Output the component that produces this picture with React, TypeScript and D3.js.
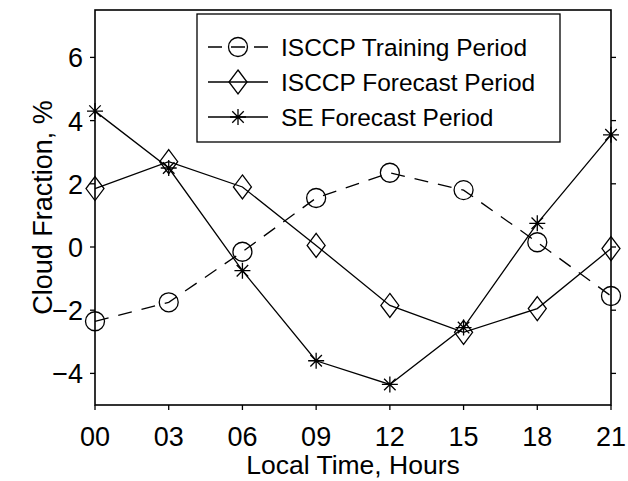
import React, { useEffect, useRef } from "react";
import * as d3 from "d3";

const hours = ["00", "03", "06", "09", "12", "15", "18", "21"];
const trainingISCCP = [-2.35, -1.75, -0.15, 1.55, 2.35, 1.8, 0.15, -1.55];
const forecastISCCP = [1.85, 2.7, 1.9, 0.05, -1.85, -2.7, -1.95, -0.05];
const forecastSE = [4.3, 2.5, -0.75, -3.6, -4.35, -2.55, 0.75, 3.55];
const yTicks = [-4, -2, 0, 2, 4, 6];

const W = 628;
const H = 481;
const M = { left: 95, right: 611, top: 10, bottom: 405 };
const FONT = "'Liberation Sans', Arial, Helvetica, sans-serif";

type Marker = "circle" | "diamond" | "star";

function drawMarker(g: d3.Selection<SVGGElement, unknown, null, undefined>, kind: Marker, x: number, y: number) {
  if (kind === "circle") {
    g.append("circle").attr("cx", x).attr("cy", y).attr("r", 9.5)
      .attr("fill", "none").attr("stroke", "#000").attr("stroke-width", 1.3);
  } else if (kind === "diamond") {
    const w = 9, h = 12;
    g.append("path")
      .attr("d", `M${x},${y - h}L${x + w},${y}L${x},${y + h}L${x - w},${y}Z`)
      .attr("fill", "none").attr("stroke", "#000").attr("stroke-width", 1.3);
  } else {
    const r = 8;
    const p: string[] = [];
    p.push(`M${x - r},${y}L${x + r},${y}`);
    p.push(`M${x},${y - r}L${x},${y + r}`);
    const d = r * 0.72;
    p.push(`M${x - d},${y - d}L${x + d},${y + d}`);
    p.push(`M${x - d},${y + d}L${x + d},${y - d}`);
    g.append("path").attr("d", p.join("")).attr("stroke", "#000").attr("stroke-width", 1.3).attr("fill", "none");
  }
}

export default function App() {
  const ref = useRef<SVGSVGElement>(null);

  useEffect(() => {
    const svg = d3.select(ref.current!);
    svg.selectAll("*").remove();

    const x = d3.scalePoint<string>().domain(hours).range([M.left, M.right]);
    const y = d3.scaleLinear().domain([-5, 7.5]).range([M.bottom, M.top]);

    const root = svg.append("g");

    const series: { name: string; values: number[]; marker: Marker; dash: string | null }[] = [
      { name: "ISCCP Training Period", values: trainingISCCP, marker: "circle", dash: "14,10" },
      { name: "ISCCP Forecast Period", values: forecastISCCP, marker: "diamond", dash: null },
      { name: "SE Forecast Period", values: forecastSE, marker: "star", dash: null },
    ];

    const line = d3.line<number>()
      .x((_, i) => x(hours[i])!)
      .y((v) => y(v));

    for (const s of series) {
      const g = root.append("g");
      const p = g.append("path").attr("d", line(s.values)!)
        .attr("fill", "none").attr("stroke", "#000").attr("stroke-width", 1.3);
      if (s.dash) p.attr("stroke-dasharray", s.dash);
      s.values.forEach((v, i) => drawMarker(g, s.marker, x(hours[i])!, y(v)));
    }

    // frame
    const axis = root.append("g");
    axis.append("rect")
      .attr("x", M.left).attr("y", M.top)
      .attr("width", M.right - M.left).attr("height", M.bottom - M.top)
      .attr("fill", "none").attr("stroke", "#000").attr("stroke-width", 1.6);

    // y ticks on both sides, pointing outward
    yTicks.forEach((t) => {
      const yy = y(t);
      axis.append("line").attr("x1", M.left - 5).attr("x2", M.left).attr("y1", yy).attr("y2", yy)
        .attr("stroke", "#000").attr("stroke-width", 1.3);
      axis.append("line").attr("x1", M.right).attr("x2", M.right + 5).attr("y1", yy).attr("y2", yy)
        .attr("stroke", "#000").attr("stroke-width", 1.3);
      axis.append("text").attr("x", M.left - 12).attr("y", yy + 10)
        .attr("text-anchor", "end").attr("font-family", FONT).attr("font-size", 27)
        .text(t < 0 ? `\u2212${Math.abs(t)}` : `${t}`);
    });

    // x ticks
    hours.forEach((h) => {
      const xx = x(h)!;
      axis.append("line").attr("x1", xx).attr("x2", xx).attr("y1", M.bottom).attr("y2", M.bottom + 5)
        .attr("stroke", "#000").attr("stroke-width", 1.3);
      axis.append("text").attr("x", xx).attr("y", 446)
        .attr("text-anchor", "middle").attr("font-family", FONT).attr("font-size", 27)
        .text(h);
    });

    root.append("text").attr("x", (M.left + M.right) / 2).attr("y", 474)
      .attr("text-anchor", "middle").attr("font-family", FONT).attr("font-size", 26.5)
      .text("Local Time, Hours");

    root.append("text")
      .attr("transform", `translate(52,${(M.top + M.bottom) / 2}) rotate(-90)`)
      .attr("text-anchor", "middle").attr("font-family", FONT).attr("font-size", 27)
      .text("Cloud Fraction, %");

    // legend
    const lg = root.append("g");
    lg.append("rect").attr("x", 197).attr("y", 14).attr("width", 363).attr("height", 128)
      .attr("fill", "#fff").attr("stroke", "#000").attr("stroke-width", 1.3);
    series.forEach((s, i) => {
      const cy = 47 + i * 35;
      const l = lg.append("line").attr("x1", 208).attr("x2", 268).attr("y1", cy).attr("y2", cy)
        .attr("stroke", "#000").attr("stroke-width", 1.3);
      if (s.dash) l.attr("stroke-dasharray", "14,9");
      drawMarker(lg, s.marker, 238, cy);
      lg.append("text").attr("x", 281).attr("y", cy + 8.5)
        .attr("font-family", FONT).attr("font-size", 24.5).text(s.name);
    });
  }, []);

  return (
    <svg ref={ref} width={W} height={H}
      style={{ position: "absolute", left: 0, top: 0, background: "#fff" }} />
  );
}
